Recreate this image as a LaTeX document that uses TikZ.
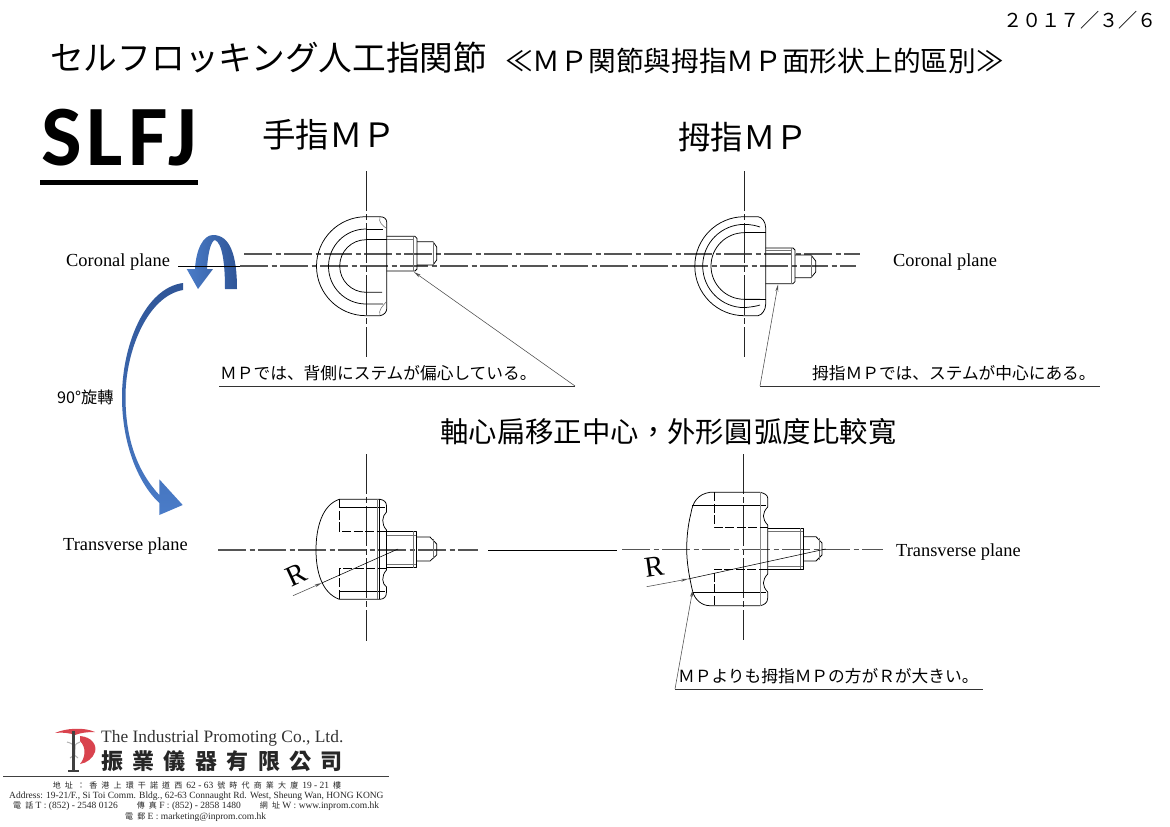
\documentclass[tikz,border=0pt]{standalone}
\usepackage{fontspec}
\setmainfont{Liberation Serif}
\newfontfamily\jp{Noto Sans CJK JP}
\newfontfamily\tc{Noto Sans CJK TC}
\newfontfamily\tcw[LetterSpace=52]{Noto Sans CJK TC}
\newfontfamily\sn[LetterSpace=6]{Carlito}
\newcommand{\fs}[1]{\fontsize{#1}{#1}\selectfont}
\newcommand{\larc}[3]{(#1,#2-#3) .. controls (#1-.5523*#3,#2-#3) and (#1-#3,#2-.5523*#3) .. (#1-#3,#2) .. controls (#1-#3,#2+.5523*#3) and (#1-.5523*#3,#2+#3) .. (#1,#2+#3)}
\usetikzlibrary{arrows.meta}
\definecolor{bluea}{HTML}{4A7CC8}
\definecolor{blueb}{HTML}{2F5597}
\definecolor{cl}{HTML}{555555}
\definecolor{logored}{HTML}{D9434E}
\tikzset{
 part/.style={draw=black,line width=.75pt,line join=round},
 hair/.style={draw=black!55,line width=.55pt},
 fold/.style={draw=black,line width=.9pt,dash pattern=on 9pt off 2.5pt},
 vaxis/.style={draw=black!85,line width=1pt,dash pattern=on 40pt off 3pt on 6pt off 3pt},
 haxis/.style={draw=cl,line width=1.3pt,dash pattern=on 28pt off 3.5pt on 5pt off 3.5pt},
 leader/.style={draw=black!70,line width=.55pt},
 ptr/.style={leader,-{Stealth[length=7pt,width=3pt,open]}},
 underl/.style={draw=black!80,line width=.8pt},
 lab/.style={anchor=west,inner sep=0pt,font=\jp\fs{16.7}},
 plane/.style={anchor=west,inner sep=0pt,font=\fs{18.4}},
 addr/.style={anchor=west,inner sep=0pt,font=\fs{9.5},text=black!85},
}
\begin{document}
\begin{tikzpicture}[x=1pt,y=-1pt]
\useasboundingbox (0,0) rectangle (1170,827);
\fill[white] (0,0) rectangle (1170,827);

% titles
\node[anchor=east,inner sep=0pt,font=\jp\fs{19.2}] (date) at (1157,20) {２０１７／３／６};
\node[anchor=west,inner sep=0pt,font=\jp\fs{33.7}] (title) at (50,58) {セルフロッキング人工指関節};
\node[anchor=west,inner sep=0pt,font=\tc\fs{27.7}] (subtitle) at (505,61) {≪ＭＰ関節與拇指ＭＰ面形状上的區別≫};
\node[anchor=base west,inner sep=0pt,font=\sn\bfseries\fs{86}] (slfj) at (41,165.7) {SLFJ};
\fill[black] (40,180) rectangle (198,184.5);
\node[anchor=west,inner sep=0pt,font=\tc\fs{33.5}] (finger) at (262,135) {手指ＭＰ};
\node[anchor=west,inner sep=0pt,font=\tc\fs{32.5}] (thumb) at (678,137) {拇指ＭＰ};
\node[anchor=west,inner sep=0pt,font=\tc\fs{28.4}] (axis) at (440,432) {軸心扁移正中心，外形圓\hspace{2pt}弧度比較寬};

% plane labels
\node[plane] (corL) at (66,262) {Coronal plane};
\node[plane] (corR) at (893,262) {Coronal plane};
\node[plane] (trL) at (63,546) {Transverse plane};
\node[plane] (trR) at (896,552) {Transverse plane};
\node[anchor=west,inner sep=0pt,font=\tc\fs{16.2}] (rot) at (57,397) {90°旋轉};

% blue arrows
\path[left color=bluea,right color=blueb]
  (237,289) .. controls (237,255) and (230,235) .. (213,235)
  .. controls (203,235) and (196,250) .. (195,269) -- (186.7,269) -- (198,289) -- (213,269) -- (207,269)
  .. controls (208,252) and (211,241) .. (215,240)
  .. controls (222,243) and (225,262) .. (225,289) -- cycle;
\path[top color=blueb,bottom color=bluea]
  (183,283) .. controls (145,288) and (122,345) .. (122,397)
  .. controls (122,442) and (137,482) .. (159.3,503) -- (159.3,515) -- (182.7,505) -- (159.3,479.3) -- (159.3,495)
  .. controls (138,472) and (125.5,440) .. (125.5,397)
  .. controls (125.5,350) and (148,296) .. (183,290) -- cycle;

% ---------- axes
\draw[draw=black,line width=1pt] (178,266) -- (240,266);
\coordinate (a1) at (244,254); \coordinate (a2) at (860,254);
\coordinate (a3) at (240,266); \coordinate (a4) at (856,266);
\draw[haxis] (a1) -- (a2);
\draw[haxis] (a3) -- (a4);
\draw[vaxis] (366,171) -- (366,357);
\draw[vaxis] (744.3,171) -- (744.3,357);
\draw[vaxis] (366,454) -- (366,641);
\draw[vaxis] (743.7,454) -- (743.7,640);
\draw[haxis] (218,550) -- (478,550);
\draw[draw=black,line width=.7pt] (488,550) -- (617,550);
\draw[haxis] (622,549.5) -- (883,549.5);

% ---------- coronal finger MP
\draw[part] \larc{366}{266.2}{49.5}
  -- (380,315.7) .. controls (384,315) and (386.7,312) .. (386.7,309)
  -- (386.7,222) .. controls (386.7,219) and (384,216.7) .. (380,216.7) -- (366,216.7);
\draw[part] \larc{366}{266.5}{37.5} -- (383,304);
\draw[part] (366,229) -- (383,229);
\draw[part] \larc{366}{266}{26.3} -- (382,292.3);
\draw[part] (366,239.7) -- (386.7,239.7);
\draw[hair] (380,217) .. controls (378,222) and (383,226) .. (386,228);
\draw[hair] (380,315.5) .. controls (378,310) and (383,306) .. (386,302);
\draw[part] (386.7,236.3) -- (415,236.3) -- (417,238.5) -- (417,269) -- (415,271) -- (386.7,271);
\draw[hair] (386.7,239.5) -- (413,239.5) (413,236.5) -- (413,271);
\draw[part] (417,241.7) -- (433,241.7) -- (436.7,247) -- (436.7,260) -- (433,265) -- (417,265);
\draw[hair] (433,241.7) -- (433,265);

% ---------- coronal thumb MP
\draw[part] \larc{744.3}{266.2}{49.5}
  -- (758,315.7) .. controls (762,315) and (765.7,310) .. (765.7,304)
  -- (765.7,228) .. controls (765.7,222) and (762,217) .. (758,216.7) -- (744.3,216.7);
\draw[part] \larc{744.3}{266}{41.6}
  .. controls (752,307) and (757,306) .. (760,305);
\draw[part] (744.3,224.4) .. controls (752,224.4) and (757,226) .. (760,227);
\draw[part] \larc{744.3}{266}{33.3} -- (760,299.3);
\draw[part] (744.3,232.7) -- (765.7,232.7);
\draw[part] (744.3,299.3) -- (765.7,299.3);
\draw[part] (765.7,248) -- (793,248) -- (795,250) -- (795,281.7) -- (793,283.7) -- (765.7,283.7);
\draw[hair] (765.7,250) -- (791,250) (791,248) -- (791,283.7);
\draw[part] (795,255) -- (811,255) -- (815.7,261) -- (815.7,272) -- (811,277.7) -- (795,277.7);
\draw[hair] (811,255) -- (811,277.7);

% ---------- transverse finger MP
\draw[part] (339.3,499.3) .. controls (322,505) and (316,528) .. (316,550)
  .. controls (316,572) and (322,593) .. (339.3,599.3)
  -- (380,599.3) .. controls (384,599) and (386.5,597) .. (386.5,592)
  -- (386.5,587) .. controls (382,584) and (381,576) .. (386.5,570) -- (386.5,530)
  .. controls (381,524) and (382,516) .. (386.5,512) -- (386.5,506)
  .. controls (386.5,502) and (384,500) .. (380,499.3) -- cycle;
\draw[part] (339,507.3) -- (385,507.3) (339,591) -- (385,591);
\draw[hair] (377.3,499.3) -- (377.3,599.3);
\draw[part] (379,499.3) -- (379,599.3);
\draw[fold] (339.3,499.3) -- (339.3,531) -- (386.5,531);
\draw[fold] (386.5,568) -- (339.3,568) -- (339.3,599.3);
\draw[part] (386.5,531) -- (416.7,531) -- (416.7,567.7) -- (386.5,567.7);
\draw[hair] (386.5,535.3) -- (416,535.3) (386.5,564) -- (416,564) (413.5,531) -- (413.5,567.7);
\draw[part] (416.7,537) -- (430,537) -- (436.7,544) -- (436.7,555) -- (430,561) -- (416.7,561);
\draw[hair] (433,539) -- (433,559);

% ---------- transverse thumb MP
\draw[part] (710,492.3) .. controls (698,494) and (692.7,502) .. (691,513)
  .. controls (688,525) and (686.7,537) .. (686.7,549)
  .. controls (686.7,562) and (689,576) .. (692.7,591.7)
  .. controls (695,600) and (702,605.7) .. (710,605.7)
  -- (760,605.7) .. controls (764,605) and (767.7,603) .. (767.7,598)
  -- (767.7,592) .. controls (762,586) and (762,580) .. (767.7,574) -- (767.7,525)
  .. controls (762,519) and (762,513) .. (767.7,507) -- (767.7,498)
  .. controls (767.7,495) and (764,493) .. (760,492.3) -- cycle;
\draw[part] (692,505) -- (766,505) (692.7,592.7) -- (766,592.7);
\draw[draw=black!45,line width=1.2pt] (760.5,492.3) -- (760.5,605.7);
\draw[fold] (714,492.3) -- (714,527) -- (767.7,527);
\draw[fold] (767.7,569) -- (714,569) -- (714,605.7);
\draw[part] (767.7,528) -- (803,528) -- (803,569) -- (767.7,569);
\draw[hair] (767.7,531) -- (803,531) (767.7,566.7) -- (803,566.7) (800,528) -- (800,569);
\draw[part] (803,536.7) -- (816,536.7) -- (822,543) -- (822,555) -- (816,561) -- (803,561);
\draw[hair] (819,538) -- (819,560);

% ---------- R dimensions
\coordinate (rA1) at (293,595.7);
\coordinate (rA2) at (321.7,583);
\coordinate (rA3) at (398,549);
\draw[ptr] (rA1) -- (rA2);
\draw[leader,draw=black] (rA2) -- (rA3);
\node[inner sep=0pt,rotate=25,font=\fs{29}] (rL) at (296,575) {R};
\coordinate (rB1) at (646.7,586.7);
\coordinate (rB2) at (688,579);
\coordinate (rB3) at (825.7,549);
\draw[ptr] (rB1) -- (rB2);
\draw[leader,draw=black] (rB2) -- (rB3);
\node[inner sep=0pt,rotate=8,font=\fs{29}] (rR) at (654,567) {R};

% ---------- notes
\node[lab] (n1) at (220,373) {ＭＰでは、背側にステムが偏心している。};
\node[lab] (n2) at (812,373) {拇指ＭＰでは、ステムが中心にある。};
\node[lab] (n3) at (678,676) {ＭＰよりも拇指ＭＰの方がＲが大きい。};
\coordinate (u1a) at (219,386); \coordinate (u1b) at (575,386); \coordinate (t1) at (414,272);
\coordinate (u2a) at (760,386); \coordinate (u2b) at (1100,386); \coordinate (t2) at (778,284.5);
\coordinate (u3a) at (675,689); \coordinate (u3b) at (983,689); \coordinate (t3) at (692.7,590);
\draw[underl] (u1a) -- (u1b);
\draw[underl] (u2a) -- (u2b);
\draw[underl] (u3a) -- (u3b);
\draw[ptr] (u1b) -- (t1);
\draw[ptr] (u2a) -- (t2);
\draw[ptr] (u3a) -- (t3);

% ---------- logo
\fill[logored] (55,733) .. controls (66,728) and (84,727) .. (95,732)
  .. controls (86,732) and (80,733) .. (75,735) .. controls (70,733) and (62,732) .. (55,733) -- cycle;
\fill[logored] (80,736) .. controls (92,737) and (97,745) .. (95,752)
  .. controls (93,758) and (87,763) .. (80,764) .. controls (85,758) and (87,748) .. (80,741) -- cycle;
\draw[black!30,line width=1pt] (67,742) .. controls (82,746) and (68,752) .. (78,758);
\draw[black!30,line width=1pt] (80,742) .. controls (68,746) and (82,752) .. (70,758);
\fill[black!75] (72,731) rectangle (75,771);
\fill[black!75] (68,769.5) rectangle (79,772);
\node[anchor=west,inner sep=0pt,font=\fs{17.4},text=black!80] (co) at (101,738) {The Industrial Promoting Co., Ltd.};
\node[anchor=west,inner sep=0pt,font=\tc\bfseries\fs{22},text=black!85] (cn) at (101,761) {振\hspace{9.4pt}業\hspace{9.4pt}儀\hspace{9.4pt}器\hspace{9.4pt}有\hspace{9.4pt}限\hspace{9.4pt}公\hspace{9.4pt}司};
\draw[draw=black!75,line width=1pt] (3,776) -- (389,776);
\node[addr,anchor=center] (ad1) at (197,785.5) {{\tcw\fs{8}地址：香港上環干諾道西}\hspace{4pt}62 - 63\hspace{4pt}{\tcw\fs{8}號時代商業大廈}\hspace{4pt}19 - 21\hspace{4pt}{\tcw\fs{8}樓}};
\node[addr] (ad2) at (9,796) {Address: 19-21/F., Si Toi Comm. Bldg., 62-63 Connaught Rd. West, Sheung Wan, HONG KONG};
\node[addr] (ad3) at (13,806.5) {{\tcw\fs{8}電話} T : (852) - 2548 0126\hspace{19pt}{\tcw\fs{8}傳真} F : (852) - 2858 1480\hspace{19pt}{\tcw\fs{8}網址} W : www.inprom.com.hk};
\node[addr] (ad4) at (125,817) {{\tcw\fs{8}電郵} E : marketing@inprom.com.hk};
\end{tikzpicture}
\end{document}
